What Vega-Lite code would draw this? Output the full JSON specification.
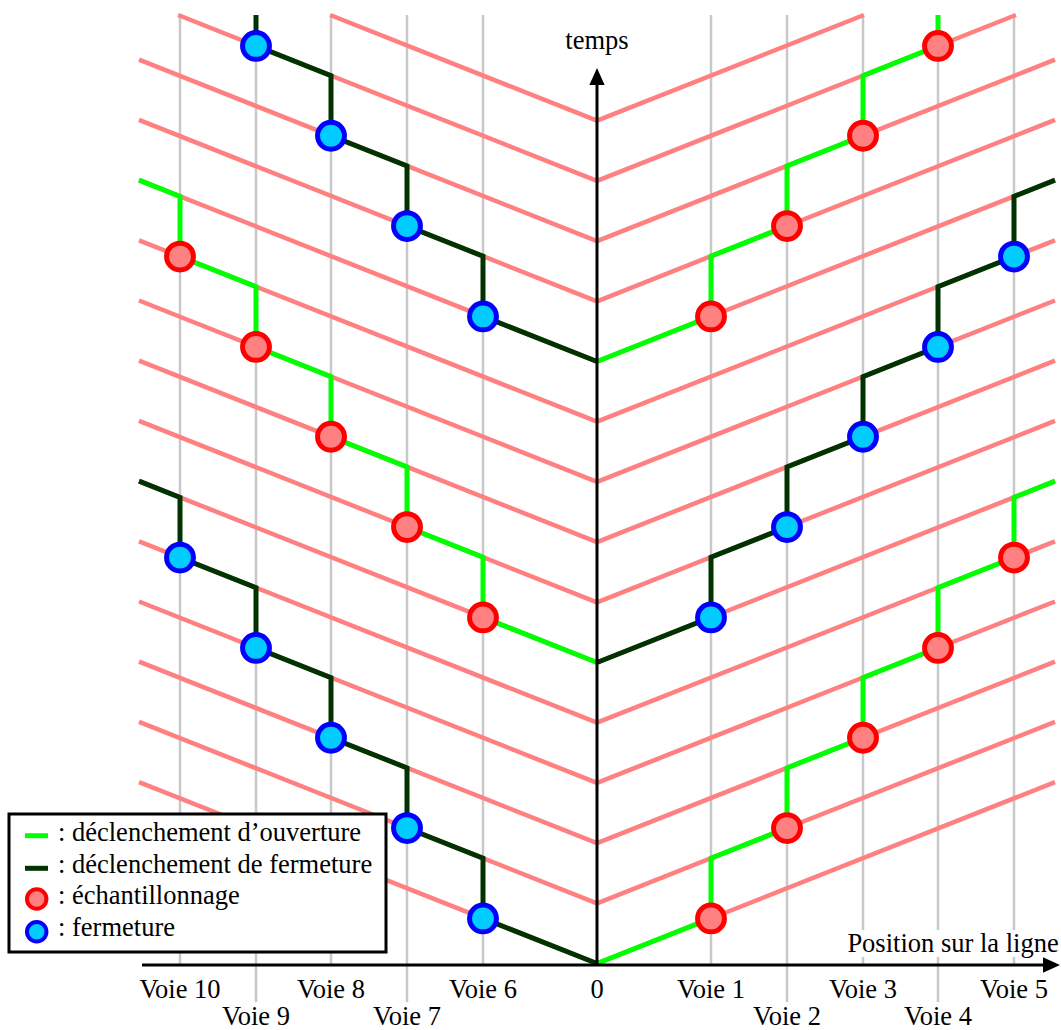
{
  "$schema": "https://vega.github.io/schema/vega-lite/v6.json",
  "width": 1061,
  "height": 1030,
  "padding": 0,
  "autosize": "none",
  "background": "white",
  "config": {"view": {"stroke": null}},
  "datasets": {
    "grid": [
      {"x": 114, "y": 948.5, "y2": -1.5},
      {"x": 190, "y": 948.5, "y2": -38.5},
      {"x": 266, "y": 948.5, "y2": -1.5},
      {"x": 341, "y": 948.5, "y2": -38.5},
      {"x": 417, "y": 948.5, "y2": -1.5},
      {"x": -114, "y": 948.5, "y2": -1.5},
      {"x": -190, "y": 948.5, "y2": -38.5},
      {"x": -266, "y": 948.5, "y2": -1.5},
      {"x": -341, "y": 948.5, "y2": -38.5},
      {"x": -417, "y": 948.5, "y2": -1.5}
    ],
    "pink": [
      {"x": 0, "y": 0, "x2": 458, "y2": 181.4},
      {"x": 0, "y": 60.2, "x2": 458, "y2": 241.6},
      {"x": 0, "y": 120.4, "x2": 458, "y2": 301.8},
      {"x": 0, "y": 180.6, "x2": 458, "y2": 362},
      {"x": 0, "y": 240.8, "x2": 458, "y2": 422.2},
      {"x": 0, "y": 301, "x2": 458, "y2": 482.4},
      {"x": 0, "y": 361.2, "x2": 458, "y2": 542.6},
      {"x": 0, "y": 421.4, "x2": 458, "y2": 602.8},
      {"x": 0, "y": 481.6, "x2": 458, "y2": 663},
      {"x": 0, "y": 541.8, "x2": 458, "y2": 723.2},
      {"x": 0, "y": 602, "x2": 458, "y2": 783.4},
      {"x": 0, "y": 662.2, "x2": 458, "y2": 843.6},
      {"x": 0, "y": 722.4, "x2": 458, "y2": 903.8},
      {"x": 0, "y": 782.6, "x2": 418.9, "y2": 948.5},
      {"x": 0, "y": 842.8, "x2": 266.9, "y2": 948.5},
      {"x": 0, "y": 0, "x2": -458, "y2": 181.4},
      {"x": 0, "y": 60.2, "x2": -458, "y2": 241.6},
      {"x": 0, "y": 120.4, "x2": -458, "y2": 301.8},
      {"x": 0, "y": 180.6, "x2": -458, "y2": 362},
      {"x": 0, "y": 240.8, "x2": -458, "y2": 422.2},
      {"x": 0, "y": 301, "x2": -458, "y2": 482.4},
      {"x": 0, "y": 361.2, "x2": -458, "y2": 542.6},
      {"x": 0, "y": 421.4, "x2": -458, "y2": 602.8},
      {"x": 0, "y": 481.6, "x2": -458, "y2": 663},
      {"x": 0, "y": 541.8, "x2": -458, "y2": 723.2},
      {"x": 0, "y": 602, "x2": -458, "y2": 783.4},
      {"x": 0, "y": 662.2, "x2": -458, "y2": 843.6},
      {"x": 0, "y": 722.4, "x2": -458, "y2": 903.8},
      {"x": 0, "y": 782.6, "x2": -418.9, "y2": 948.5},
      {"x": 0, "y": 842.8, "x2": -266.9, "y2": 948.5}
    ],
    "paths": [
      {"path": "RG1", "kind": "o", "i": 0, "x": 0, "y": 0},
      {"path": "RG1", "kind": "o", "i": 1, "x": 114, "y": 45.1},
      {"path": "RG1", "kind": "o", "i": 2, "x": 114, "y": 105.3},
      {"path": "RG1", "kind": "o", "i": 3, "x": 190, "y": 135.4},
      {"path": "RG1", "kind": "o", "i": 4, "x": 190, "y": 195.6},
      {"path": "RG1", "kind": "o", "i": 5, "x": 266, "y": 225.7},
      {"path": "RG1", "kind": "o", "i": 6, "x": 266, "y": 285.9},
      {"path": "RG1", "kind": "o", "i": 7, "x": 341, "y": 315.6},
      {"path": "RG1", "kind": "o", "i": 8, "x": 341, "y": 375.8},
      {"path": "RG1", "kind": "o", "i": 9, "x": 417, "y": 405.9},
      {"path": "RG1", "kind": "o", "i": 10, "x": 417, "y": 466.1},
      {"path": "RG1", "kind": "o", "i": 11, "x": 458, "y": 482.4},
      {"path": "RF1", "kind": "f", "i": 0, "x": 0, "y": 301},
      {"path": "RF1", "kind": "f", "i": 1, "x": 114, "y": 346.1},
      {"path": "RF1", "kind": "f", "i": 2, "x": 114, "y": 406.3},
      {"path": "RF1", "kind": "f", "i": 3, "x": 190, "y": 436.4},
      {"path": "RF1", "kind": "f", "i": 4, "x": 190, "y": 496.6},
      {"path": "RF1", "kind": "f", "i": 5, "x": 266, "y": 526.7},
      {"path": "RF1", "kind": "f", "i": 6, "x": 266, "y": 586.9},
      {"path": "RF1", "kind": "f", "i": 7, "x": 341, "y": 616.6},
      {"path": "RF1", "kind": "f", "i": 8, "x": 341, "y": 676.8},
      {"path": "RF1", "kind": "f", "i": 9, "x": 417, "y": 706.9},
      {"path": "RF1", "kind": "f", "i": 10, "x": 417, "y": 767.1},
      {"path": "RF1", "kind": "f", "i": 11, "x": 458, "y": 783.4},
      {"path": "RG2", "kind": "o", "i": 0, "x": 0, "y": 602},
      {"path": "RG2", "kind": "o", "i": 1, "x": 114, "y": 647.1},
      {"path": "RG2", "kind": "o", "i": 2, "x": 114, "y": 707.3},
      {"path": "RG2", "kind": "o", "i": 3, "x": 190, "y": 737.4},
      {"path": "RG2", "kind": "o", "i": 4, "x": 190, "y": 797.6},
      {"path": "RG2", "kind": "o", "i": 5, "x": 266, "y": 827.7},
      {"path": "RG2", "kind": "o", "i": 6, "x": 266, "y": 887.9},
      {"path": "RG2", "kind": "o", "i": 7, "x": 341, "y": 917.6},
      {"path": "RG2", "kind": "o", "i": 8, "x": 341, "y": 948.5},
      {"path": "LF1", "kind": "f", "i": 0, "x": 0, "y": 0},
      {"path": "LF1", "kind": "f", "i": 1, "x": -114, "y": 45.1},
      {"path": "LF1", "kind": "f", "i": 2, "x": -114, "y": 105.3},
      {"path": "LF1", "kind": "f", "i": 3, "x": -190, "y": 135.4},
      {"path": "LF1", "kind": "f", "i": 4, "x": -190, "y": 195.6},
      {"path": "LF1", "kind": "f", "i": 5, "x": -266, "y": 225.7},
      {"path": "LF1", "kind": "f", "i": 6, "x": -266, "y": 285.9},
      {"path": "LF1", "kind": "f", "i": 7, "x": -341, "y": 315.6},
      {"path": "LF1", "kind": "f", "i": 8, "x": -341, "y": 375.8},
      {"path": "LF1", "kind": "f", "i": 9, "x": -417, "y": 405.9},
      {"path": "LF1", "kind": "f", "i": 10, "x": -417, "y": 466.1},
      {"path": "LF1", "kind": "f", "i": 11, "x": -458, "y": 482.4},
      {"path": "LG1", "kind": "o", "i": 0, "x": 0, "y": 301},
      {"path": "LG1", "kind": "o", "i": 1, "x": -114, "y": 346.1},
      {"path": "LG1", "kind": "o", "i": 2, "x": -114, "y": 406.3},
      {"path": "LG1", "kind": "o", "i": 3, "x": -190, "y": 436.4},
      {"path": "LG1", "kind": "o", "i": 4, "x": -190, "y": 496.6},
      {"path": "LG1", "kind": "o", "i": 5, "x": -266, "y": 526.7},
      {"path": "LG1", "kind": "o", "i": 6, "x": -266, "y": 586.9},
      {"path": "LG1", "kind": "o", "i": 7, "x": -341, "y": 616.6},
      {"path": "LG1", "kind": "o", "i": 8, "x": -341, "y": 676.8},
      {"path": "LG1", "kind": "o", "i": 9, "x": -417, "y": 706.9},
      {"path": "LG1", "kind": "o", "i": 10, "x": -417, "y": 767.1},
      {"path": "LG1", "kind": "o", "i": 11, "x": -458, "y": 783.4},
      {"path": "LF2", "kind": "f", "i": 0, "x": 0, "y": 602},
      {"path": "LF2", "kind": "f", "i": 1, "x": -114, "y": 647.1},
      {"path": "LF2", "kind": "f", "i": 2, "x": -114, "y": 707.3},
      {"path": "LF2", "kind": "f", "i": 3, "x": -190, "y": 737.4},
      {"path": "LF2", "kind": "f", "i": 4, "x": -190, "y": 797.6},
      {"path": "LF2", "kind": "f", "i": 5, "x": -266, "y": 827.7},
      {"path": "LF2", "kind": "f", "i": 6, "x": -266, "y": 887.9},
      {"path": "LF2", "kind": "f", "i": 7, "x": -341, "y": 917.6},
      {"path": "LF2", "kind": "f", "i": 8, "x": -341, "y": 948.5}
    ],
    "circles": [
      {"kind": "o", "x": 114, "y": 45.1},
      {"kind": "o", "x": 190, "y": 135.4},
      {"kind": "o", "x": 266, "y": 225.7},
      {"kind": "o", "x": 341, "y": 315.6},
      {"kind": "o", "x": 417, "y": 405.9},
      {"kind": "o", "x": 114, "y": 647.1},
      {"kind": "o", "x": 190, "y": 737.4},
      {"kind": "o", "x": 266, "y": 827.7},
      {"kind": "o", "x": 341, "y": 917.6},
      {"kind": "o", "x": -114, "y": 346.1},
      {"kind": "o", "x": -190, "y": 436.4},
      {"kind": "o", "x": -266, "y": 526.7},
      {"kind": "o", "x": -341, "y": 616.6},
      {"kind": "o", "x": -417, "y": 706.9},
      {"kind": "f", "x": 114, "y": 346.1},
      {"kind": "f", "x": 190, "y": 436.4},
      {"kind": "f", "x": 266, "y": 526.7},
      {"kind": "f", "x": 341, "y": 616.6},
      {"kind": "f", "x": 417, "y": 706.9},
      {"kind": "f", "x": -114, "y": 45.1},
      {"kind": "f", "x": -190, "y": 135.4},
      {"kind": "f", "x": -266, "y": 225.7},
      {"kind": "f", "x": -341, "y": 315.6},
      {"kind": "f", "x": -417, "y": 405.9},
      {"kind": "f", "x": -114, "y": 647.1},
      {"kind": "f", "x": -190, "y": 737.4},
      {"kind": "f", "x": -266, "y": 827.7},
      {"kind": "f", "x": -341, "y": 917.6}
    ],
    "labels": [
      {"x": -417, "y": -34.5, "label": "Voie 10"},
      {"x": -341, "y": -61.5, "label": "Voie 9"},
      {"x": -266, "y": -34.5, "label": "Voie 8"},
      {"x": -190, "y": -61.5, "label": "Voie 7"},
      {"x": -114, "y": -34.5, "label": "Voie 6"},
      {"x": 0, "y": -34.5, "label": "0"},
      {"x": 114, "y": -34.5, "label": "Voie 1"},
      {"x": 190, "y": -61.5, "label": "Voie 2"},
      {"x": 266, "y": -34.5, "label": "Voie 3"},
      {"x": 341, "y": -61.5, "label": "Voie 4"},
      {"x": 417, "y": -34.5, "label": "Voie 5"},
      {"x": 0, "y": 914.5, "label": "temps"},
      {"x": 356, "y": 11.5, "label": "Position sur la ligne"}
    ]
  },
  "encoding": {
    "x": {"field": "x", "type": "quantitative", "scale": {"domain": [-597, 464], "nice": false, "zero": false}, "axis": null},
    "y": {"field": "y", "type": "quantitative", "scale": {"domain": [-66.5, 963.5], "nice": false, "zero": false}, "axis": null}
  },
  "layer": [
    {
      "data": {"name": "grid"},
      "mark": {"type": "rule", "color": "#c8c8c8", "strokeWidth": 2.5},
      "encoding": {"y2": {"field": "y2"}}
    },
    {
      "data": {"name": "pink"},
      "mark": {"type": "rule", "color": "#ff8080", "strokeWidth": 4.5},
      "encoding": {"x2": {"field": "x2"}, "y2": {"field": "y2"}}
    },
    {
      "data": {"name": "paths"},
      "mark": {"type": "line", "strokeWidth": 5, "strokeJoin": "miter", "strokeCap": "butt"},
      "encoding": {
        "detail": {"field": "path"},
        "order": {"field": "i", "type": "quantitative"},
        "color": {"field": "kind", "type": "nominal", "scale": {"domain": ["o", "f"], "range": ["#00ff00", "#003300"]}, "legend": null}
      }
    },
    {
      "data": {"values": [{"x": 248, "x2": 463, "y": 33.5, "y2": 6.5}]},
      "mark": {"type": "rect", "fill": "white"},
      "encoding": {"x2": {"field": "x2"}, "y2": {"field": "y2"}}
    },
    {
      "data": {"values": [{"x": -455, "y": -1.5, "x2": 448, "y2": -1.5}, {"x": 0, "y": -1.5, "x2": 0, "y2": 880}]},
      "mark": {"type": "rule", "color": "black", "strokeWidth": 3},
      "encoding": {"x2": {"field": "x2"}, "y2": {"field": "y2"}}
    },
    {
      "data": {"values": [{"x": 454.5, "y": -1.5}]},
      "mark": {"type": "point", "shape": "M1,0 L-1,-0.9 L-1,0.9 Z", "size": 289, "filled": true, "color": "black", "opacity": 1, "strokeWidth": 0}
    },
    {
      "data": {"values": [{"x": 0, "y": 887}]},
      "mark": {"type": "point", "shape": "M0,-1 L0.9,1 L-0.9,1 Z", "size": 289, "filled": true, "color": "black", "opacity": 1, "strokeWidth": 0}
    },
    {
      "data": {"name": "circles"},
      "mark": {"type": "point", "shape": "circle", "size": 721, "strokeWidth": 5, "opacity": 1, "filled": true},
      "encoding": {
        "fill": {"field": "kind", "type": "nominal", "scale": {"domain": ["o", "f"], "range": ["#ff8080", "#00ccff"]}, "legend": null},
        "stroke": {"field": "kind", "type": "nominal", "scale": {"domain": ["o", "f"], "range": ["#ff0000", "#0000ff"]}, "legend": null}
      }
    },
    {
      "data": {"name": "labels"},
      "mark": {"type": "text", "font": "Liberation Serif", "fontSize": 26.5, "align": "center", "baseline": "alphabetic", "color": "black"},
      "encoding": {"text": {"field": "label"}}
    },
    {
      "data": {"values": [{"x": -588, "x2": -211, "y": 149.5, "y2": 11.5}]},
      "mark": {"type": "rect", "fill": "white", "stroke": "black", "strokeWidth": 3},
      "encoding": {"x2": {"field": "x2"}, "y2": {"field": "y2"}}
    },
    {
      "data": {"values": [{"kind": "o", "x": -572, "x2": -549, "y": 127.8}, {"kind": "f", "x": -572, "x2": -549, "y": 95.2}]},
      "mark": {"type": "rule", "strokeWidth": 5},
      "encoding": {
        "x2": {"field": "x2"},
        "color": {"field": "kind", "type": "nominal", "scale": {"domain": ["o", "f"], "range": ["#00ff00", "#003300"]}, "legend": null}
      }
    },
    {
      "data": {"values": [{"kind": "o", "x": -560.3, "y": 64.5}, {"kind": "f", "x": -560.3, "y": 31.8}]},
      "mark": {"type": "point", "shape": "circle", "size": 380, "strokeWidth": 4, "opacity": 1, "filled": true},
      "encoding": {
        "fill": {"field": "kind", "type": "nominal", "scale": {"domain": ["o", "f"], "range": ["#ff8080", "#00ccff"]}, "legend": null},
        "stroke": {"field": "kind", "type": "nominal", "scale": {"domain": ["o", "f"], "range": ["#ff0000", "#0000ff"]}, "legend": null}
      }
    },
    {
      "data": {"values": [
        {"x": -539, "y": 122.5, "label": ": déclenchement d’ouverture"},
        {"x": -539, "y": 90.5, "label": ": déclenchement de fermeture"},
        {"x": -539, "y": 59.5, "label": ": échantillonnage"},
        {"x": -539, "y": 27.5, "label": ": fermeture"}
      ]},
      "mark": {"type": "text", "font": "Liberation Serif", "fontSize": 26.5, "align": "left", "baseline": "alphabetic", "color": "black"},
      "encoding": {"text": {"field": "label"}}
    }
  ]
}
